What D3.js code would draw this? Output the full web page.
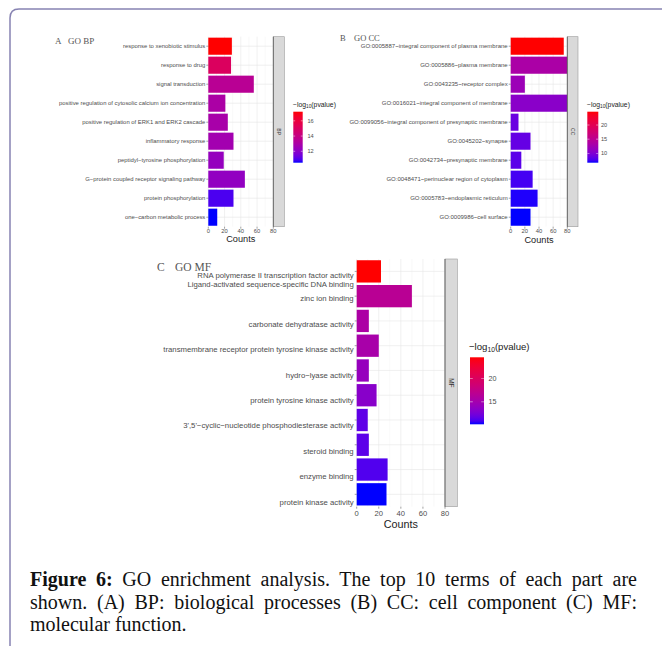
<!DOCTYPE html>
<html><head><meta charset="utf-8">
<script src="https://cdn.jsdelivr.net/npm/d3@7"></script>
<style>body{margin:0;background:#fff}svg{display:block}</style>
</head><body>
<svg id="c" width="662" height="646"></svg>
<script>
// ---------------- DATA ----------------
const bpTerms = ["response to xenobiotic stimulus","response to drug","signal transduction",
  "positive regulation of cytosolic calcium ion concentration","positive regulation of ERK1 and ERK2 cascade",
  "inflammatory response","peptidyl\u2212tyrosine phosphorylation","G\u2212protein coupled receptor signaling pathway",
  "protein phosphorylation","one\u2212carbon metabolic process"];
const bpCounts = [29, 28, 56, 21, 24, 31, 19, 45, 31, 11];
const bpLogP   = [17.2, 15.1, 13.5, 13.0, 12.9, 12.7, 12.3, 12.2, 10.9, 10.5];

const ccTerms = ["GO:0005887~integral component of plasma membrane","GO:0005886~plasma membrane",
  "GO:0043235~receptor complex","GO:0016021~integral component of membrane",
  "GO:0099056~integral component of presynaptic membrane","GO:0045202~synapse",
  "GO:0042734~presynaptic membrane","GO:0048471~perinuclear region of cytoplasm",
  "GO:0005783~endoplasmic reticulum","GO:0009986~cell surface"];
const ccCounts = [75, 80, 20, 80, 11, 28, 15, 31, 38, 28];
const ccLogP   = [24.7, 13.4, 12.1, 10.7, 8.9, 8.7, 8.3, 7.6, 6.9, 6.7];

const mfTerms = ["RNA polymerase II transcription factor activity\nLigand-activated sequence-specific DNA binding",
  "zinc ion binding","carbonate dehydratase activity","transmembrane receptor protein tyrosine kinase activity",
  "hydro\u2212lyase activity","protein tyrosine kinase activity","3',5'\u2212cyclic\u2212nucleotide phosphodiesterase activity",
  "steroid binding","enzyme binding","protein kinase activity"];
const mfCounts = [22, 50, 11, 20, 11, 18, 10, 11, 28, 27];
const mfLogP   = [24.5, 16.6, 15.6, 15.3, 14.1, 13.3, 11.6, 11.5, 11.2, 10.2];

const countTicks = [0, 20, 40, 60, 80];
const bpLegendTicks = [12, 14, 16];
const ccLegendTicks = [10, 15, 20];
const mfLegendTicks = [15, 20];

const captionLines = [
  [["Figure 6:", true], [" GO enrichment analysis. The top 10 terms of each part are", false]],
  [["shown. (A) BP: biological processes (B) CC: cell component (C) MF:", false]],
  [["molecular function.", false]]
];

// ---------------- DRAW ----------------
const svg = d3.select("#c");
const SANS = "'Liberation Sans', Arial, Helvetica, sans-serif";
const SERIF = "'Liberation Serif', 'Times New Roman', serif";

// frame
svg.append("path").attr("d", "M10,646 L10,18 Q10,9 19,9 L662,9")
  .attr("fill", "none").attr("stroke", "#8783b2").attr("stroke-width", 1.5);

let gradId = 0;
function panel(o) {
  const g = svg.append("g");
  const x = d3.scaleLinear().domain([0, 80]).range([o.x0, o.x1]);
  const y = d3.scaleBand().domain(o.terms).range([o.y0, o.y1]).paddingInner(0.1).paddingOuter(0.05);
  const yl = d3.scaleBand().domain(o.terms).range(o.labRange || [o.y0, o.y1]).paddingInner(0.1).paddingOuter(0.05);
  const lo = d3.min(o.logp), hi = d3.max(o.logp);
  const color = d3.scaleLinear().domain([lo, hi]).range(["blue", "red"]).interpolate(d3.interpolateLab);

  // grid
  g.selectAll(".gmin").data(d3.range(10, 80, 20)).join("line")
    .attr("x1", d => x(d)).attr("x2", d => x(d)).attr("y1", o.y0).attr("y2", o.y1)
    .attr("stroke", "#f1f1f1").attr("stroke-width", 0.4);
  g.selectAll(".gmaj").data(o.ticks).join("line")
    .attr("x1", d => x(d)).attr("x2", d => x(d)).attr("y1", o.y0).attr("y2", o.y1)
    .attr("stroke", "#e6e6e6").attr("stroke-width", 0.6);
  g.selectAll(".gh").data(o.terms).join("line")
    .attr("x1", o.x0).attr("x2", o.x1)
    .attr("y1", d => y(d) + y.bandwidth() / 2).attr("y2", d => y(d) + y.bandwidth() / 2)
    .attr("stroke", "#e6e6e6").attr("stroke-width", 0.6);

  // bars
  g.selectAll(".bar").data(o.terms.map((t, i) => ({t, c: o.counts[i], p: o.logp[i]}))).join("rect")
    .attr("x", x(0)).attr("y", d => y(d.t))
    .attr("width", d => x(Math.min(d.c, 80)) - x(0)).attr("height", y.bandwidth())
    .attr("fill", d => color(d.p));

  // strip
  g.append("rect").attr("x", o.x1).attr("y", o.y0).attr("width", o.stripW).attr("height", o.y1 - o.y0)
    .attr("fill", "#d9d9d9").attr("stroke", "#9a9a9a").attr("stroke-width", 0.6);
  g.append("line").attr("x1", o.x1).attr("x2", o.x1).attr("y1", o.y0).attr("y2", o.y1)
    .attr("stroke", "#555").attr("stroke-width", 0.8);
  const sx = o.x1 + o.stripW / 2, sy = (o.y0 + o.y1) / 2;
  g.append("text").attr("transform", `translate(${sx},${sy}) rotate(90)`)
    .attr("text-anchor", "middle").attr("dominant-baseline", "central")
    .attr("font-family", SANS).attr("font-size", o.stripFs).attr("fill", "#333").text(o.strip);

  // y ticks + labels
  g.selectAll(".yt").data(o.terms).join("line")
    .attr("x1", o.x0 - 2).attr("x2", o.x0)
    .attr("y1", d => y(d) + y.bandwidth() / 2).attr("y2", d => y(d) + y.bandwidth() / 2)
    .attr("stroke", "#444").attr("stroke-width", 0.5);
  o.terms.forEach(t => {
    const lines = t.split("\n");
    const cy = yl(t) + yl.bandwidth() / 2;
    const tx = g.append("text").attr("text-anchor", "end").attr("font-family", SANS)
      .attr("font-size", o.labFs).attr("fill", "#4d4d4d");
    lines.forEach((ln, k) => {
      tx.append("tspan").attr("x", o.x0 - 3)
        .attr("y", cy + (k - (lines.length - 1) / 2) * o.lineH + (lines.length > 1 ? o.multiDy : 0))
        .attr("dominant-baseline", "central").text(ln);
    });
  });

  // x ticks + labels
  g.selectAll(".xt").data(o.ticks).join("line")
    .attr("x1", d => x(d)).attr("x2", d => x(d)).attr("y1", o.y1).attr("y2", o.y1 + 2)
    .attr("stroke", "#444").attr("stroke-width", 0.5);
  g.selectAll(".xl").data(o.ticks).join("text")
    .attr("x", d => x(d)).attr("y", o.y1 + o.tickDy).attr("text-anchor", "middle")
    .attr("dominant-baseline", "central").attr("font-family", SANS)
    .attr("font-size", o.tickFs).attr("fill", "#4d4d4d").text(d => d);
  g.append("text").attr("x", (o.x0 + o.x1) / 2).attr("y", o.y1 + o.cntDy)
    .attr("text-anchor", "middle").attr("dominant-baseline", "central")
    .attr("font-family", SANS).attr("font-size", o.cntFs).attr("fill", "#222").text("Counts");

  // panel title
  g.append("text").attr("x", o.tx).attr("y", o.ty).attr("font-family", SERIF)
    .attr("font-size", o.tFs).attr("fill", "#555").attr("dominant-baseline", "central").text(o.letter);
  g.append("text").attr("x", o.tx + o.tGap).attr("y", o.ty).attr("font-family", SERIF)
    .attr("font-size", o.tFs).attr("fill", "#555").attr("dominant-baseline", "central").text(o.title);

  // legend
  const L = o.leg;
  const ly = d3.scaleLinear().domain([lo, hi]).range([L.by + L.bh, L.by]);
  const id = "grad" + (gradId++);
  const gr = svg.append("defs").append("linearGradient").attr("id", id)
    .attr("x1", 0).attr("y1", 0).attr("x2", 0).attr("y2", 1);
  d3.range(0, 21).forEach(i => {
    gr.append("stop").attr("offset", i / 20).attr("stop-color", color(hi - (hi - lo) * i / 20));
  });
  g.append("rect").attr("x", L.bx).attr("y", L.by).attr("width", L.bw).attr("height", L.bh)
    .attr("fill", `url(#${id})`);
  o.legTicks.forEach(t => {
    g.append("line").attr("x1", L.bx).attr("x2", L.bx + L.bw * 0.2).attr("y1", ly(t)).attr("y2", ly(t))
      .attr("stroke", "#fff").attr("stroke-width", 0.6).attr("opacity", 0.8);
    g.append("line").attr("x1", L.bx + L.bw * 0.8).attr("x2", L.bx + L.bw).attr("y1", ly(t)).attr("y2", ly(t))
      .attr("stroke", "#fff").attr("stroke-width", 0.6).attr("opacity", 0.8);
    g.append("text").attr("x", L.lx).attr("y", ly(t)).attr("dominant-baseline", "central")
      .attr("font-family", SANS).attr("font-size", L.lfs).attr("fill", "#4d4d4d").text(t);
  });
  const tt = g.append("text").attr("x", L.tx).attr("y", L.ty).attr("dominant-baseline", "central")
    .attr("font-family", SANS).attr("font-size", L.tfs).attr("fill", "#222");
  tt.append("tspan").text("\u2212log");
  tt.append("tspan").attr("font-size", L.tfs * 0.7).attr("dy", L.tfs * 0.3).text("10");
  tt.append("tspan").attr("dy", -L.tfs * 0.3).text("(pvalue)");
}

panel({terms: bpTerms, counts: bpCounts, logp: bpLogP, ticks: countTicks, legTicks: bpLegendTicks,
  x0: 208.3, x1: 273.3, y0: 36.7, y1: 226.7, stripW: 11, strip: "BP", stripFs: 5,
  labFs: 5.9, lineH: 6, multiDy: 0, tickFs: 5.8, tickDy: 4.6, cntFs: 9.2, cntDy: 12.3,
  letter: "A", title: "GO BP", tx: 55, ty: 41, tFs: 9, tGap: 13,
  leg: {tx: 293, ty: 103.5, tfs: 6.8, bx: 293.3, by: 111.7, bw: 9.4, bh: 51, lx: 307.5, lfs: 5.6}});

panel({terms: ccTerms, counts: ccCounts, logp: ccLogP, ticks: countTicks, legTicks: ccLegendTicks,
  x0: 510.7, x1: 567.3, y0: 36.7, y1: 226.7, stripW: 10.7, strip: "CC", stripFs: 5,
  labFs: 6.0, lineH: 6, multiDy: 0, tickFs: 5.8, tickDy: 4.6, cntFs: 9.2, cntDy: 13,
  letter: "B", title: "GO CC", tx: 340, ty: 37.5, tFs: 8.5, tGap: 14,
  leg: {tx: 587, ty: 104, tfs: 6.8, bx: 587.3, by: 111.7, bw: 11, bh: 51, lx: 601, lfs: 5.6}});

panel({terms: mfTerms, counts: mfCounts, logp: mfLogP, ticks: countTicks, legTicks: mfLegendTicks,
  x0: 356.7, x1: 445, y0: 259, y1: 506.7, labRange: [260.9, 514.7], stripW: 12.3, strip: "MF", stripFs: 6.5,
  labFs: 7.75, lineH: 8.6, multiDy: 6.4, tickFs: 7.6, tickDy: 6.3, cntFs: 10.8, cntDy: 17.3,
  letter: "C", title: "GO MF", tx: 157, ty: 267, tFs: 11.5, tGap: 18,
  leg: {tx: 469, ty: 346, tfs: 9.6, bx: 470, by: 357.3, bw: 14, bh: 67, lx: 488.5, lfs: 7.2}});

// caption
const capX = 30, capW = 607, capY0 = 586, capLH = 22.6;
captionLines.forEach((segs, i) => {
  const t = svg.append("text").attr("x", capX).attr("y", capY0 + i * capLH)
    .attr("font-family", SERIF).attr("font-size", 20).attr("fill", "#111");
  segs.forEach(([s, b]) => t.append("tspan").attr("font-weight", b ? "bold" : "normal").text(s));
  if (i < captionLines.length - 1) {
    const len = t.node().getComputedTextLength();
    const full = segs.map(s => s[0]).join("");
    const nSp = (full.match(/ /g) || []).length;
    if (nSp > 0) t.attr("word-spacing", (capW - len) / nSp);
  }
});
</script>
</body></html>
